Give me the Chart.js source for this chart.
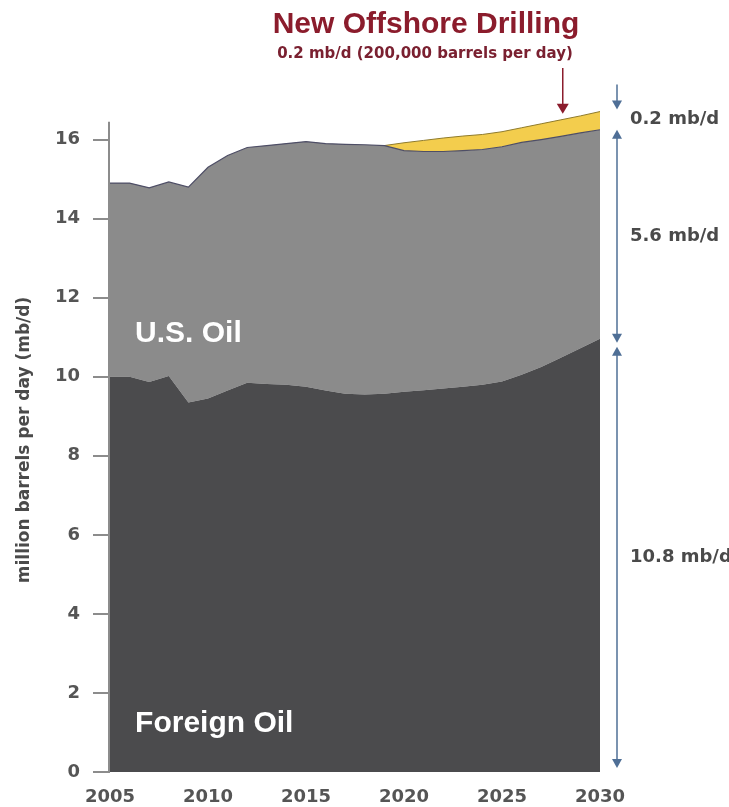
<!DOCTYPE html>
<html>
<head>
    <title>New Offshore Drilling</title>
    <style>
        body {
            margin: 0;
            background-color: #fff;
        }
        .chart-container {
            width: 729px;
            height: 807px;
        }
    </style>
    <script src="https://cdn.jsdelivr.net/npm/chart.js"></script>
</head>
<body>
    <div class="chart-container">
        <canvas id="oilChart"></canvas>
    </div>

    <script>
        // values, million barrels per day
        var years = [2005, 2006, 2007, 2008, 2009, 2010, 2011, 2012, 2013, 2014, 2015, 2016, 2017,
                     2018, 2019, 2020, 2021, 2022, 2023, 2024, 2025, 2026, 2027, 2028, 2029, 2030];
        var foreignOil = [10.0, 10.0, 9.87, 10.02, 9.35, 9.45, 9.65, 9.85, 9.82, 9.8, 9.75, 9.65, 9.57,
                          9.55, 9.57, 9.62, 9.66, 9.7, 9.75, 9.8, 9.88, 10.05, 10.25, 10.48, 10.72, 10.96];
        // top of the U.S. oil band (foreign + U.S.)
        var totalOil = [14.9, 14.9, 14.78, 14.93, 14.8, 15.3, 15.6, 15.8, 15.85, 15.9, 15.95, 15.9, 15.88,
                        15.87, 15.85, 15.72, 15.7, 15.7, 15.72, 15.75, 15.82, 15.93, 16.0, 16.08, 16.17, 16.25];
        // top of the new offshore drilling band
        var offshoreTop = [null, null, null, null, null, null, null, null, null, null, null, null, null,
                           null, 15.85, 15.92, 15.98, 16.04, 16.09, 16.13, 16.2, 16.3, 16.4, 16.5, 16.6, 16.71];

        var yTicks = [0, 2, 4, 6, 8, 10, 12, 14, 16];
        var xTicks = [2005, 2010, 2015, 2020, 2025, 2030];
        var sideLabels = ['0.2 mb/d', '5.6 mb/d', '10.8 mb/d'];

        function points(values) {
            return years.map(function (yr, i) { return { x: yr, y: values[i] }; });
        }

        function arrowHead(ctx, x, tipY, dir, w, h) {
            // dir = 1 points down, -1 points up
            ctx.beginPath();
            ctx.moveTo(x, tipY);
            ctx.lineTo(x - w / 2, tipY - dir * h);
            ctx.lineTo(x + w / 2, tipY - dir * h);
            ctx.closePath();
            ctx.fill();
        }

        function line(ctx, x, y1, y2) {
            ctx.beginPath();
            ctx.moveTo(x, y1);
            ctx.lineTo(x, y2);
            ctx.stroke();
        }

        var annotate = {
            id: 'annotate',
            afterDraw: function (chart) {
                var ctx = chart.ctx, xs = chart.scales.x, ys = chart.scales.y, a = chart.chartArea;
                var last = years.length - 1;
                ctx.save();

                // y axis line, stops a little above the 16 tick
                ctx.strokeStyle = '#8c8c8c';
                ctx.lineWidth = 2;
                line(ctx, a.left - 1, ys.getPixelForValue(0), ys.getPixelForValue(16.45));

                // band labels
                ctx.fillStyle = '#fff';
                ctx.font = 'bold 30px "Liberation Sans", Arial, sans-serif';
                ctx.textAlign = 'left';
                ctx.textBaseline = 'alphabetic';
                ctx.fillText('U.S. Oil', xs.getPixelForValue(2006.28), ys.getPixelForValue(10.89));
                ctx.fillText('Foreign Oil', xs.getPixelForValue(2006.28), ys.getPixelForValue(1.01));

                // title
                ctx.fillStyle = '#8b1c2c';
                ctx.textAlign = 'center';
                ctx.font = 'bold 30px "Liberation Sans", Arial, sans-serif';
                ctx.fillText('New Offshore Drilling', 426, 33);
                ctx.font = 'bold 15px "DejaVu Sans", sans-serif';
                ctx.fillStyle = '#7a2030';
                ctx.fillText('0.2 mb/d (200,000 barrels per day)', 425, 58);

                // red pointer onto the offshore band
                var px = xs.getPixelForValue(2028.1);
                var tip = ys.getPixelForValue(16.5) - 6;
                ctx.strokeStyle = '#8b1c2c';
                ctx.fillStyle = '#8b1c2c';
                ctx.lineWidth = 1.5;
                line(ctx, px, 68, tip - 8);
                arrowHead(ctx, px, tip, 1, 12, 10);

                // right-hand blue range arrows
                var ax = a.right + 17;
                var yTop = ys.getPixelForValue(offshoreTop[last]);
                var yTot = ys.getPixelForValue(totalOil[last]);
                var yFor = ys.getPixelForValue(foreignOil[last]);
                var yZero = ys.getPixelForValue(0);
                ctx.strokeStyle = '#4f6f96';
                ctx.fillStyle = '#4f6f96';
                ctx.lineWidth = 1.5;

                line(ctx, ax, yTop - 27, yTop - 6);
                arrowHead(ctx, ax, yTop - 2, 1, 10, 9);

                line(ctx, ax, yTot + 6, yFor - 2);
                arrowHead(ctx, ax, yTot, -1, 10, 9);
                arrowHead(ctx, ax, yFor + 4, 1, 10, 9);

                line(ctx, ax, yFor + 14, yZero - 10);
                arrowHead(ctx, ax, yFor + 8, -1, 10, 9);
                arrowHead(ctx, ax, yZero - 4, 1, 10, 9);

                ctx.fillStyle = '#4a4a4a';
                ctx.font = 'bold 18px "DejaVu Sans", sans-serif';
                ctx.textAlign = 'left';
                ctx.textBaseline = 'middle';
                var lx = a.right + 30;
                ctx.fillText(sideLabels[0], lx, (yTop - 2 + yTot) / 2);
                ctx.fillText(sideLabels[1], lx, (yTot + yFor + 4) / 2);
                ctx.fillText(sideLabels[2], lx, (yFor + 8 + yZero - 4) / 2);

                ctx.restore();
            }
        };

        var oilChart = new Chart(document.getElementById('oilChart'), {
            type: 'line',
            data: {
                datasets: [
                    {
                        label: 'Foreign Oil',
                        data: points(foreignOil),
                        fill: 'origin',
                        backgroundColor: '#4b4b4d',
                        borderWidth: 0,
                        pointRadius: 0
                    },
                    {
                        label: 'U.S. Oil',
                        data: points(totalOil),
                        fill: '-1',
                        backgroundColor: '#8b8b8b',
                        borderColor: '#4e4e66',
                        borderWidth: 1.2,
                        pointRadius: 0
                    },
                    {
                        label: 'New Offshore Drilling',
                        data: points(offshoreTop),
                        fill: '-1',
                        backgroundColor: '#f3cd4d',
                        borderColor: '#8f7b2c',
                        borderWidth: 1,
                        pointRadius: 0
                    }
                ]
            },
            options: {
                responsive: true,
                maintainAspectRatio: false,
                animation: false,
                layout: { padding: { left: 10, right: 129, top: 108, bottom: 0 } },
                plugins: {
                    legend: { display: false },
                    tooltip: { enabled: false }
                },
                scales: {
                    x: {
                        type: 'linear',
                        min: 2005,
                        max: 2030,
                        afterBuildTicks: function (s) { s.ticks = xTicks.map(function (v) { return { value: v }; }); },
                        afterFit: function (s) { s.height = 35; },
                        grid: { display: false, drawTicks: false },
                        border: { display: false },
                        ticks: {
                            padding: 15,
                            color: '#555',
                            font: { family: 'DejaVu Sans', weight: 'bold', size: 18 },
                            callback: function (v) { return String(v); }
                        }
                    },
                    y: {
                        min: 0,
                        max: 16.8,
                        afterBuildTicks: function (s) { s.ticks = yTicks.map(function (v) { return { value: v }; }); },
                        afterFit: function (s) { s.width = 100; },
                        grid: { drawOnChartArea: false, tickLength: 17, color: '#8c8c8c', lineWidth: 2 },
                        border: { display: false },
                        ticks: {
                            padding: 13,
                            color: '#555',
                            font: { family: 'DejaVu Sans', weight: 'bold', size: 18 }
                        },
                        title: {
                            display: true,
                            text: 'million barrels per day (mb/d)',
                            color: '#4a4a4a',
                            font: { family: 'DejaVu Sans', weight: 'bold', size: 17 }
                        }
                    }
                }
            },
            plugins: [annotate]
        });
    </script>
</body>
</html>
